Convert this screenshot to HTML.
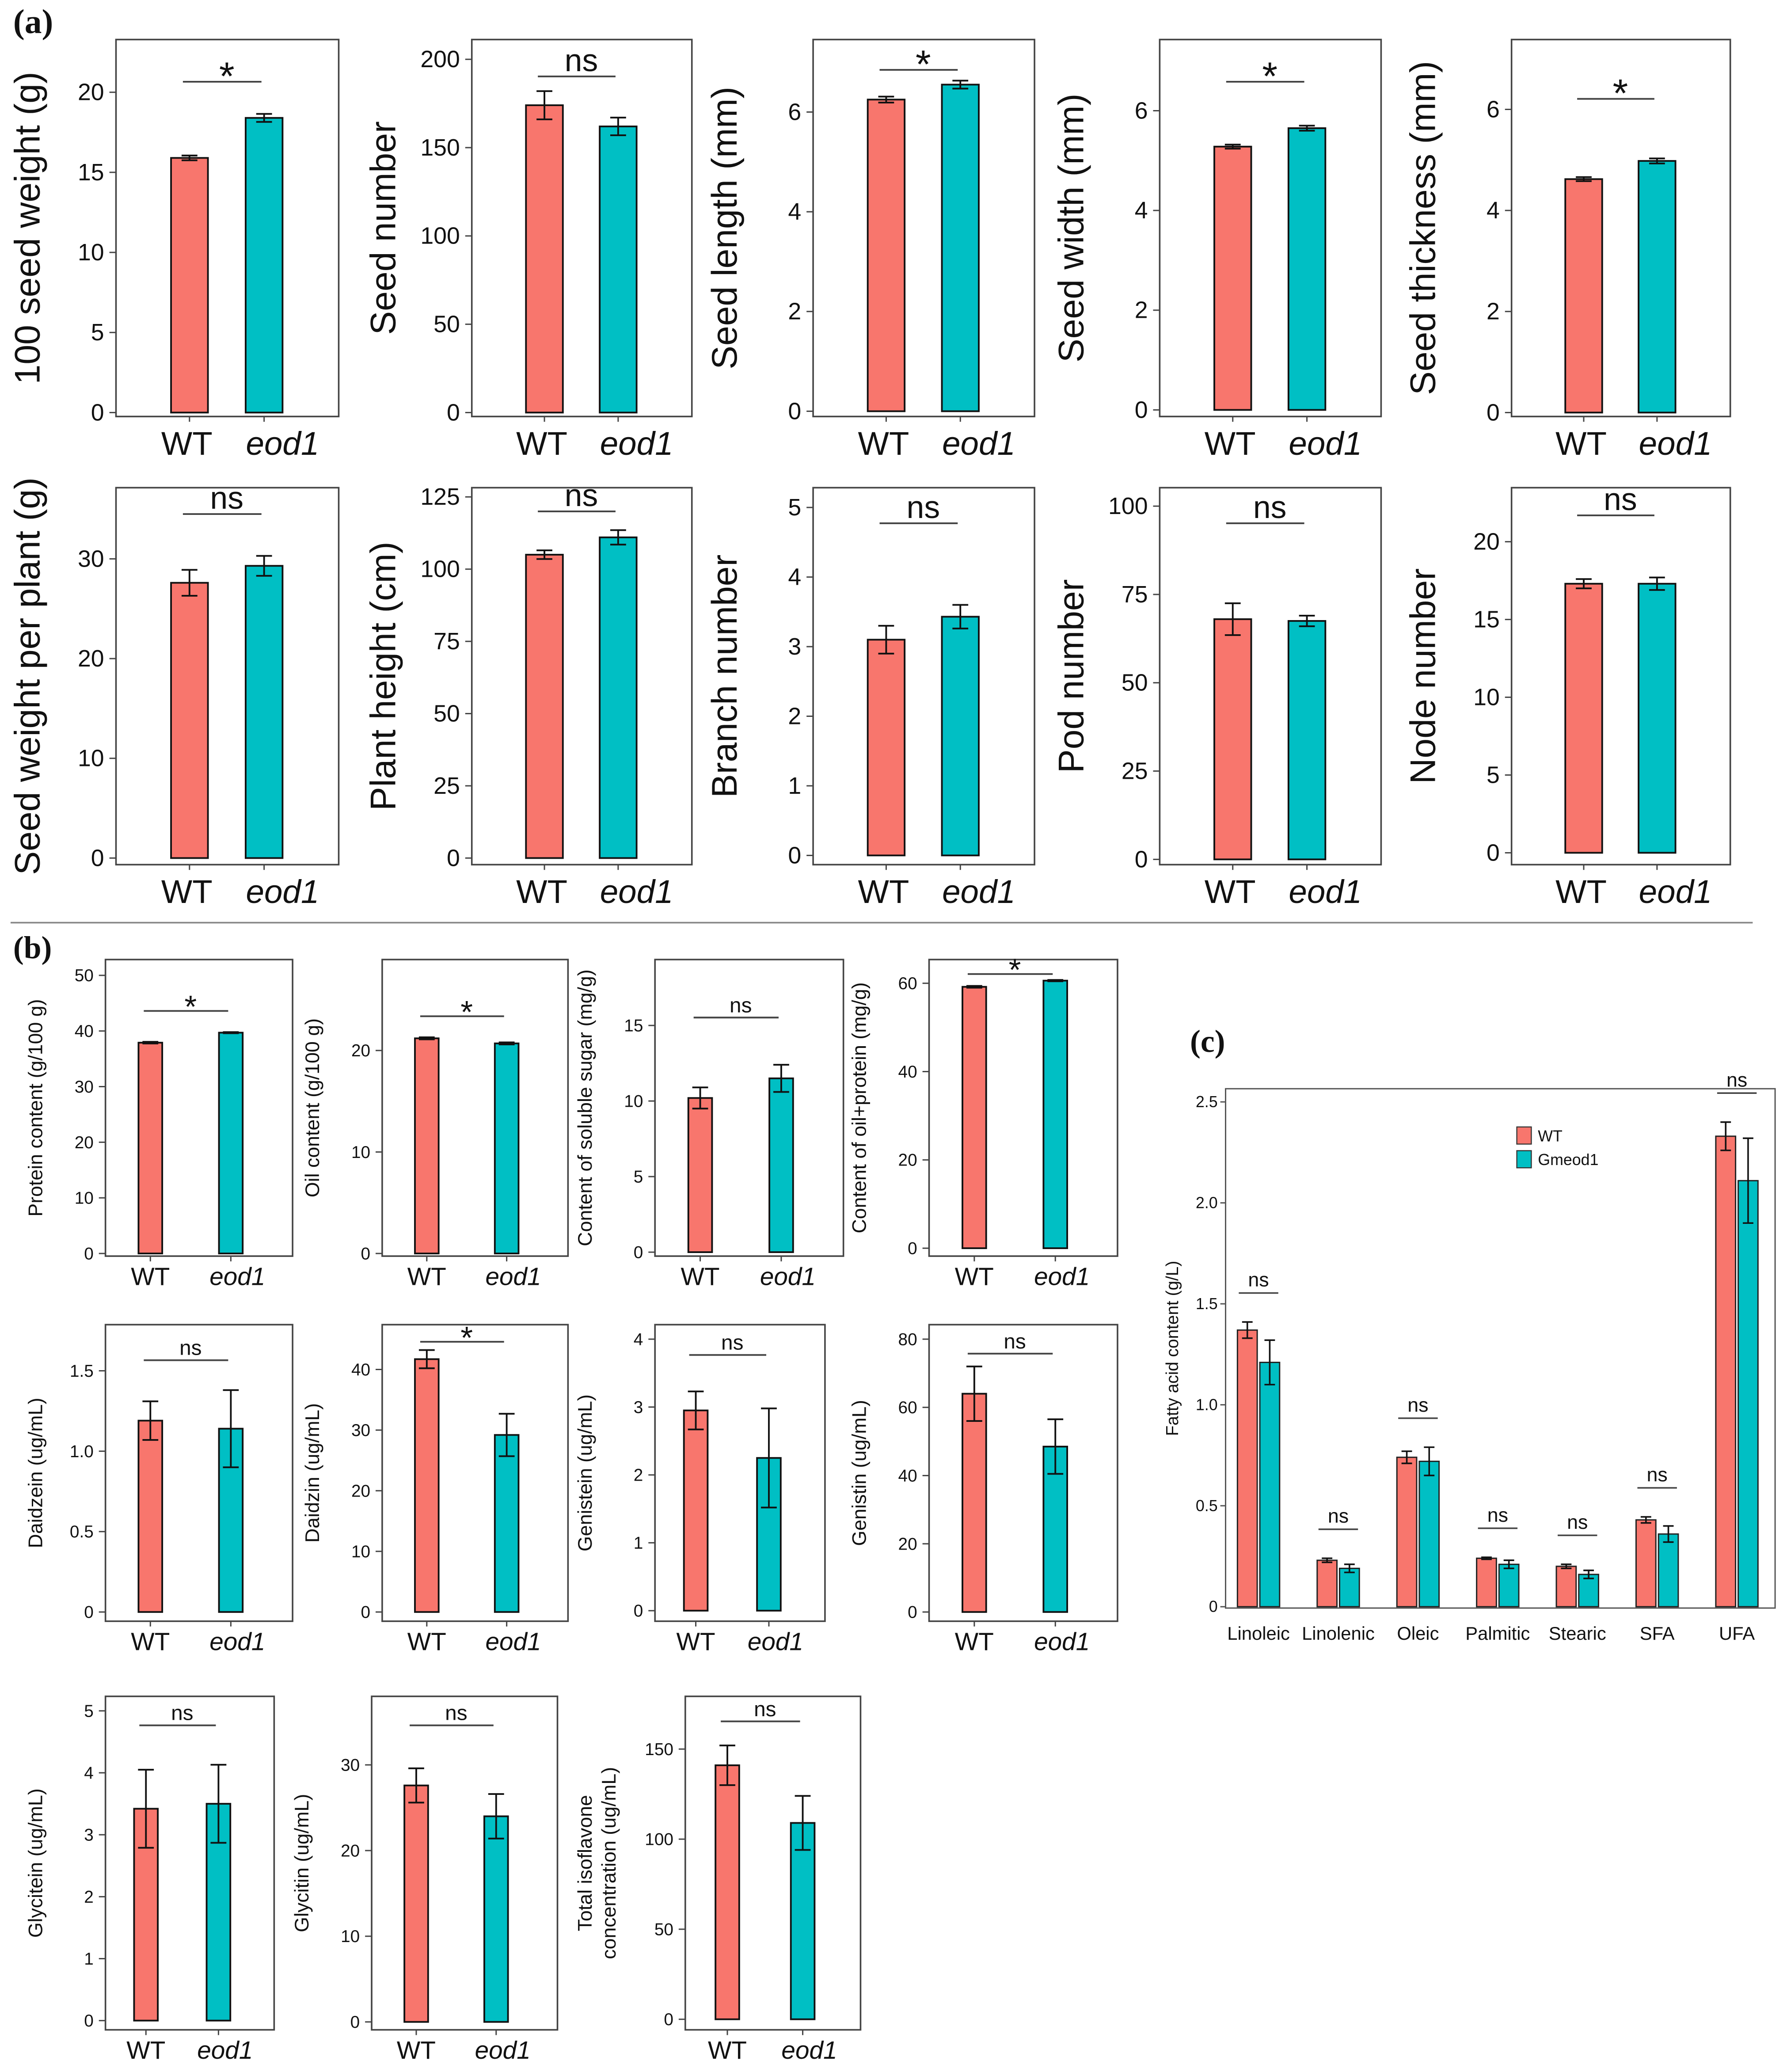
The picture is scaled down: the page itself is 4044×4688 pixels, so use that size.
<!DOCTYPE html>
<html><head><meta charset="utf-8">
<style>
html,body{margin:0;padding:0;background:#fff;}
svg{display:block;}
text{font-family:"Liberation Sans",Arial,sans-serif;fill:#111;}
.pl{font-family:"Liberation Serif",serif;font-weight:bold;}
</style></head>
<body>
<svg id="fig" xmlns="http://www.w3.org/2000/svg" width="4044" height="4688" viewBox="0 0 1356 1572">
<rect width="1356" height="1572" fill="#fff"/>
<text class="pl" x="10" y="25" font-size="26">(a)</text>
<text class="pl" x="10" y="727" font-size="24">(b)</text>
<text class="pl" x="903" y="798" font-size="24">(c)</text>
<line x1="8" y1="700" x2="1330" y2="700" stroke="#888" stroke-width="1.2"/>
</svg>
<script>
// ---- data: small panels (WT vs eod1) ----
const panelLabels = ["100 seed weight (g)","Seed number","Seed length (mm)","Seed width (mm)","Seed thickness (mm)",
 "Seed weight per plant (g)","Plant height (cm)","Branch number","Pod number","Node number",
 "Protein content (g/100 g)","Oil content (g/100 g)","Content of soluble sugar (mg/g)","Content of oil+protein (mg/g)",
 "Daidzein (ug/mL)","Daidzin (ug/mL)","Genistein (ug/mL)","Genistin (ug/mL)",
 "Glycitein (ug/mL)","Glycitin (ug/mL)","Total isoflavone|concentration (ug/mL)"];
const wtValues   = [15.9,174,6.25,5.28,4.62, 27.6,105,3.1,68,17.3, 37.9,21.2,10.2,59.2, 1.19,41.7,2.95,64, 3.42,27.6,141];
const wtErrors   = [0.15,8,0.06,0.04,0.04, 1.3,1.5,0.2,4.5,0.3, 0.15,0.1,0.7,0.2, 0.12,1.5,0.28,8, 0.63,2,11];
const eodValues  = [18.4,162,6.55,5.65,4.98, 29.3,111,3.43,67.5,17.3, 39.7,20.7,11.5,60.6, 1.14,29.2,2.25,48.5, 3.5,24,109];
const eodErrors  = [0.25,5,0.08,0.05,0.05, 1.0,2.5,0.17,1.5,0.4, 0.1,0.1,0.9,0.15, 0.24,3.5,0.73,8, 0.63,2.6,15];
const tickMax    = [20,200,6,6,6, 30,125,5,100,20, 50,20,15,60, 1.5,40,4,80, 5,30,150];
const tickStep   = [5,50,2,2,2, 10,25,1,25,5, 10,10,5,20, 0.5,10,1,20, 1,10,50];
const sigMarks   = ["*","ns","*","*","*", "ns","ns","ns","ns","ns", "*","*","ns","*", "ns","*","ns","ns", "ns","ns","ns"];
// ---- data: fatty acid panel ----
const faCategories = ["Linoleic","Linolenic","Oleic","Palmitic","Stearic","SFA","UFA"];
const faWT     = [1.37,0.23,0.74,0.24,0.20,0.43,2.33];
const faWTErr  = [0.04,0.01,0.03,0.005,0.01,0.015,0.07];
const faGm     = [1.21,0.19,0.72,0.21,0.16,0.36,2.11];
const faGmErr  = [0.11,0.02,0.07,0.02,0.02,0.04,0.21];
const faTicks  = [0,0.5,1.0,1.5,2.0,2.5];

// ---- layout (display coords) ----
const layout = [
 [88,257,30,316,313,70,'a',62],[358,525,30,316,313,45,'a',58],[617,785,30,316,312,85,'a',53],[880,1048,30,316,311,84,'a',62],[1147,1313,30,316,313,83,'a',75],
 [88,257,370,656,651,424,'a',390],[358,525,370,656,651,377,'a',388],[617,785,370,656,649,385,'a',397],[880,1048,370,656,652,384,'a',397],[1147,1313,370,656,647,411,'a',391],
 [80,222,728,953,951,740,'b',767],[290,431,728,953,951,797,'b',771],[497,640,728,953,950,778,'b',772],[705,848,728,953,947,746,'b',739],
 [80,222,1005,1230,1223,1040,'b',1032],[290,431,1005,1230,1223,1039,'b',1018],[497,626,1005,1230,1222,1016,'b',1028],[705,848,1005,1230,1223,1016,'b',1027],
 [80,208,1287,1540,1533,1298,'b',1309],[282,423,1287,1540,1534,1339,'b',1309],[520,653,1287,1540,1532,1327,'b',1306]
];
const NS='http://www.w3.org/2000/svg';
const svg=document.getElementById('fig');
function mk(tag,attrs,parent){const e=document.createElementNS(NS,tag);for(const k in attrs)e.setAttribute(k,attrs[k]);(parent||svg).appendChild(e);return e;}
const RED='#F8766D',CYAN='#00BFC4';

for(let i=0;i<wtValues.length;i++){
  const [x0,x1,y0b,y1b,zp,mp,st,sigY]=layout[i];
  const g=mk('g',{});
  
  
  const y=v=>zp-(v/tickMax[i])*(zp-mp);
  const big=st==='a';
  const box=mk('rect',{x:x0,y:y0b,width:x1-x0,height:y1b-y0b,fill:'none',stroke:'#444','stroke-width':1.2},g);
  
  
  const nT=Math.round(tickMax[i]/tickStep[i]);
  for(let t=0;t<=nT;t++){
    const v=t*tickStep[i];
    mk('line',{x1:x0-5,x2:x0,y1:y(v),y2:y(v),stroke:'#444','stroke-width':1},g);
    const tl=mk('text',{x:x0-9,y:y(v)+(big?6:4.5),'text-anchor':'end','font-size':big?18:13,fill:'#333'},g);
    tl.textContent=(tickStep[i]<1?v.toFixed(1):String(v)).replace(/^0\.0$/,'0');
    
    
  }
  const w=x1-x0;
  const cx=[x0+w*(big?0.33:0.24), x0+w*(big?0.665:0.67)];
  const bw=big?28:18;
  const vals=[wtValues[i],eodValues[i]],errs=[wtErrors[i],eodErrors[i]],cols=[RED,CYAN],nm=['bar-wt','bar-eod1'];
  const lblOff=big?[-2,14]:[0,5];
  for(let k=0;k<2;k++){
    const r=mk('rect',{x:cx[k]-bw/2,y:y(vals[k]),width:bw,height:zp-y(vals[k]),fill:cols[k],stroke:'#111','stroke-width':1.3},g);
    
    
    const hi=y(vals[k]+errs[k]),lo=y(vals[k]-errs[k]);
    const eb=mk('path',{d:`M${cx[k]-6},${hi}H${cx[k]+6}M${cx[k]},${hi}V${lo}M${cx[k]-6},${lo}H${cx[k]+6}`,stroke:'#111','stroke-width':1.3,fill:'none'},g);
    
    
    mk('line',{x1:cx[k],x2:cx[k],y1:y1b,y2:y1b+4,stroke:'#444'},g);
    const xl=mk('text',{x:cx[k]+lblOff[k],y:y1b+(big?29:22),'text-anchor':'middle','font-size':big?25:19},g);
    xl.textContent=k?'eod1':'WT';
    if(k)xl.setAttribute('font-style','italic');
    
    
  }
  const sl=mk('line',{x1:cx[0]-5,x2:cx[1]-2,y1:sigY,y2:sigY,stroke:'#444','stroke-width':1.3},g);
  
  
  const s=sigMarks[i];
  const stx=mk('text',{x:(cx[0]+cx[1])/2,y:s==='*'?sigY+(big?6:5):sigY-4,'text-anchor':'middle','font-size':s==='*'?(big?30:24):(big?24:16)},g);
  stx.textContent=s;
  
  
  const parts=panelLabels[i].split('|');
  const lx=x0-(big?58:(parts.length>1?62:48));
  const cy=(y0b+y1b)/2;
  const lab=mk('text',{x:0,y:0,'text-anchor':'middle','font-size':big?27:15,transform:`translate(${lx},${cy}) rotate(-90)`},g);
  parts.forEach((p,j)=>{const ts=mk('tspan',{x:0,dy:j?18:(parts.length>1?-9:0)},lab);ts.textContent=p;});
  
  
}

// ---- fatty acid chart ----
(function(){
  const X0=930,X1=1347,Y0=826,Y1=1220,zp=1219,mp=836,yMax=2.5;
  const g=mk('g',{});
  
  
  const y=v=>zp-v/yMax*(zp-mp);
  const fr=mk('rect',{x:X0,y:Y0,width:X1-X0,height:Y1-Y0,fill:'none',stroke:'#555','stroke-width':1},g);
  
  
  faTicks.forEach(v=>{
    mk('line',{x1:X0-4,x2:X0,y1:y(v),y2:y(v),stroke:'#555'},g);
    const t=mk('text',{x:X0-6,y:y(v)+4,'text-anchor':'end','font-size':12,fill:'#333'},g);
    t.textContent=v===0?'0':v.toFixed(1);
    
    
  });
  const bw=15;
  faCategories.forEach((c,i)=>{
    const cc=955+i*(1318-955)/6;
    const vals=[faWT[i],faGm[i]],errs=[faWTErr[i],faGmErr[i]],cols=[RED,CYAN];
    const bx=[cc-16,cc+1];
    for(let k=0;k<2;k++){
      const r=mk('rect',{x:bx[k],y:y(vals[k]),width:bw,height:zp-y(vals[k]),fill:cols[k],stroke:'#222','stroke-width':1},g);
      
      
      const m=bx[k]+bw/2,hi=y(vals[k]+errs[k]),lo=y(vals[k]-errs[k]);
      const eb=mk('path',{d:`M${m-4},${hi}H${m+4}M${m},${hi}V${lo}M${m-4},${lo}H${m+4}`,stroke:'#111','stroke-width':1.2,fill:'none'},g);
      
      
    }
    const top=Math.max(vals[0]+errs[0],vals[1]+errs[1]);
    const sy=y(top)-22;
    const sl=mk('line',{x1:cc-15,x2:cc+15,y1:sy,y2:sy,stroke:'#444','stroke-width':1.2},g);
    
    
    const st=mk('text',{x:cc,y:sy-5,'text-anchor':'middle','font-size':15},g);
    st.textContent='ns';
    
    
    const xl=mk('text',{x:cc,y:1244,'text-anchor':'middle','font-size':14},g);
    xl.textContent=c;
    
    
  });
  const yl=mk('text',{x:0,y:0,'text-anchor':'middle','font-size':13,transform:`translate(${X0-36},${(Y0+Y1)/2}) rotate(-90)`},g);
  yl.textContent='Fatty acid content (g/L)';
  
  
  const lg=mk('g',{},g);
  
  
  [['WT',RED],['Gmeod1',CYAN]].forEach((e,k)=>{
    const sq=mk('rect',{x:1151,y:855+k*18,width:11,height:13,fill:e[1],stroke:'#333','stroke-width':0.8},lg);
    
    
    const t=mk('text',{x:1167,y:866+k*18,'font-size':12},lg);
    t.textContent=e[0];
    
    
  });
})();
</script>
</body></html>
